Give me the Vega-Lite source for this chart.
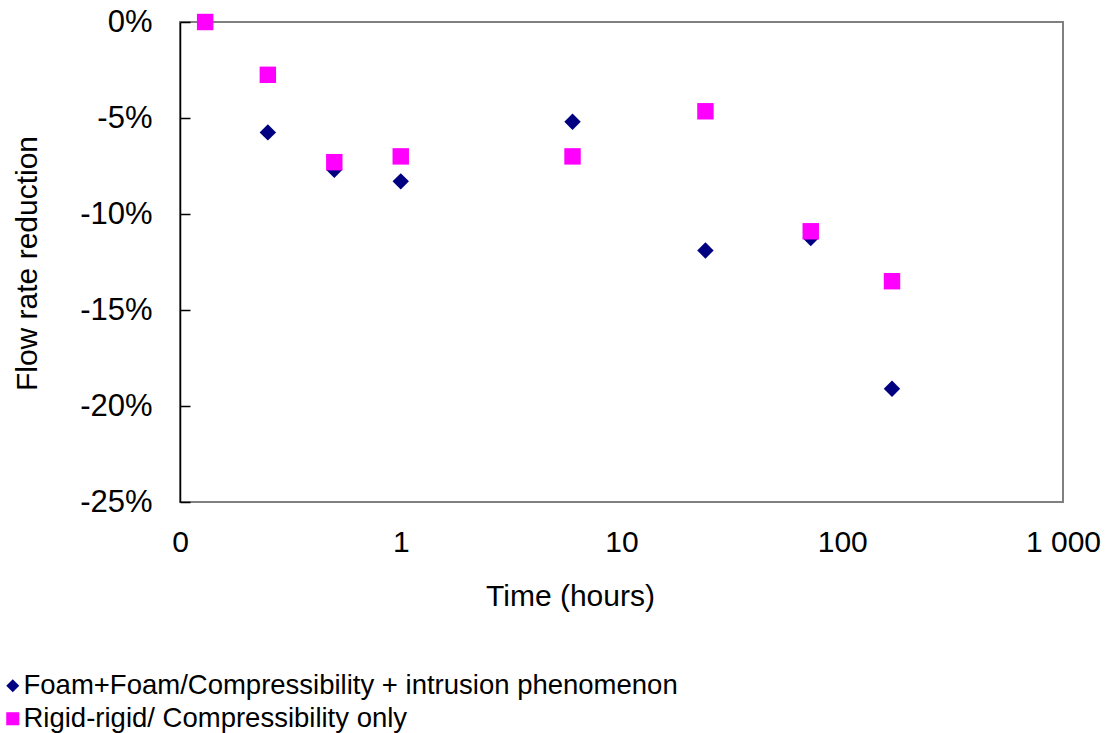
{
  "$schema": "https://vega.github.io/schema/vega-lite/v6.json",
  "width": 883,
  "height": 480,
  "autosize": "none",
  "padding": {"left": 180, "top": 22, "right": 47, "bottom": 231},
  "background": "white",
  "config": {
    "font": "Liberation Sans",
    "view": {"stroke": "#808080", "strokeWidth": 2},
    "axis": {"grid": false}
  },
  "data": {
    "values": [
      {"time": 0.13, "reduction": 0.0, "series": "Foam+Foam/Compressibility + intrusion phenomenon"},
      {"time": 0.25, "reduction": -5.75, "series": "Foam+Foam/Compressibility + intrusion phenomenon"},
      {"time": 0.5, "reduction": -7.7, "series": "Foam+Foam/Compressibility + intrusion phenomenon"},
      {"time": 1, "reduction": -8.3, "series": "Foam+Foam/Compressibility + intrusion phenomenon"},
      {"time": 6, "reduction": -5.2, "series": "Foam+Foam/Compressibility + intrusion phenomenon"},
      {"time": 24, "reduction": -11.9, "series": "Foam+Foam/Compressibility + intrusion phenomenon"},
      {"time": 72, "reduction": -11.25, "series": "Foam+Foam/Compressibility + intrusion phenomenon"},
      {"time": 168, "reduction": -19.1, "series": "Foam+Foam/Compressibility + intrusion phenomenon"},
      {"time": 0.13, "reduction": 0.0, "series": "Rigid-rigid/  Compressibility only"},
      {"time": 0.25, "reduction": -2.75, "series": "Rigid-rigid/  Compressibility only"},
      {"time": 0.5, "reduction": -7.3, "series": "Rigid-rigid/  Compressibility only"},
      {"time": 1, "reduction": -7.0, "series": "Rigid-rigid/  Compressibility only"},
      {"time": 6, "reduction": -7.0, "series": "Rigid-rigid/  Compressibility only"},
      {"time": 24, "reduction": -4.65, "series": "Rigid-rigid/  Compressibility only"},
      {"time": 72, "reduction": -10.9, "series": "Rigid-rigid/  Compressibility only"},
      {"time": 168, "reduction": -13.5, "series": "Rigid-rigid/  Compressibility only"}
    ]
  },
  "mark": {"type": "point", "filled": true, "opacity": 1, "size": 270, "clip": false},
  "encoding": {
    "x": {
      "field": "time",
      "type": "quantitative",
      "scale": {"type": "log", "domain": [0.1, 1000], "nice": false},
      "axis": {
        "title": "Time (hours)",
        "values": [0.1, 1, 10, 100, 1000],
        "labelExpr": "datum.value == 0.1 ? '0' : datum.value == 1000 ? '1 000' : '' + datum.value",
        "labelFontSize": 30,
        "labelColor": "black",
        "labelPadding": 25,
        "labelFlush": false,
        "ticks": false,
        "domain": false,
        "titleFontSize": 30,
        "titleFontWeight": "normal",
        "titleColor": "black",
        "titleX": 390,
        "titleY": 94,
        "titleAlign": "center",
        "titleBaseline": "middle"
      }
    },
    "y": {
      "field": "reduction",
      "type": "quantitative",
      "scale": {"domain": [-25, 0], "nice": false, "zero": false},
      "axis": {
        "title": "Flow rate reduction",
        "values": [-25, -20, -15, -10, -5, 0],
        "labelExpr": "datum.value + '%'",
        "labelFontSize": 31,
        "labelColor": "black",
        "tickSize": -10,
        "tickColor": "black",
        "tickWidth": 1.5,
        "labelPadding": 38,
        "domainColor": "black",
        "domainWidth": 1.5,
        "titleFontSize": 30,
        "titleFontWeight": "normal",
        "titleColor": "black",
        "titleX": -153,
        "titleY": 241,
        "titleAngle": -90,
        "titleAlign": "center",
        "titleBaseline": "middle"
      }
    },
    "color": {
      "field": "series",
      "type": "nominal",
      "scale": {
        "domain": ["Foam+Foam/Compressibility + intrusion phenomenon", "Rigid-rigid/  Compressibility only"],
        "range": ["#000080", "#ff00ff"]
      },
      "legend": {
        "title": null,
        "orient": "none",
        "legendX": -181,
        "legendY": 650,
        "direction": "vertical",
        "labelFontSize": 27.5,
        "labelColor": "black",
        "labelLimit": 1000,
        "symbolSize": 170,
        "symbolOffset": 0,
        "labelOffset": -3,
        "rowPadding": 4,
        "padding": 0
      }
    },
    "shape": {
      "field": "series",
      "type": "nominal",
      "scale": {
        "domain": ["Foam+Foam/Compressibility + intrusion phenomenon", "Rigid-rigid/  Compressibility only"],
        "range": ["diamond", "square"]
      },
      "legend": null
    }
  }
}
